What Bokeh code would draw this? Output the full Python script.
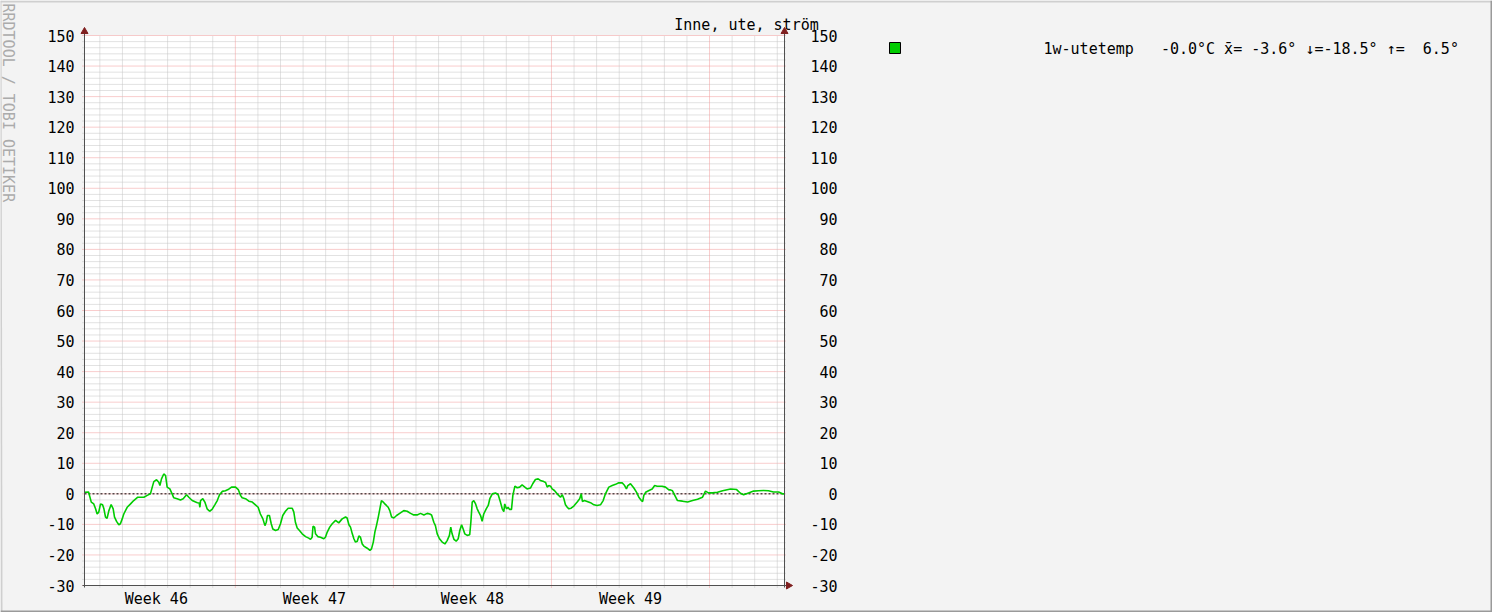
import math
from bokeh.plotting import figure
from bokeh.models import Range1d
from bokeh.core.properties import value
from bokeh.embed import file_html
from bokeh.resources import INLINE

# ---------------- data (time in days from graph start, temperature in °C) ----------------
days = [0.00, 0.18, 0.30, 0.41, 0.49, 0.56, 0.63, 0.71, 0.80, 0.86, 0.93, 1.00, 1.08, 1.18,
        1.27, 1.33, 1.42, 1.52, 1.59, 1.67, 1.74, 1.89, 2.04, 2.18, 2.36, 2.63, 2.78, 2.92,
        3.00, 3.07, 3.19, 3.29, 3.34, 3.41, 3.51, 3.59, 3.66, 3.78, 3.88, 3.95, 4.10, 4.25,
        4.37, 4.52, 4.62, 4.77, 4.92, 5.00, 5.08, 5.11, 5.14, 5.24, 5.33, 5.43, 5.54, 5.65,
        5.77, 5.88, 5.98, 6.10, 6.24, 6.36, 6.51, 6.69, 6.81, 6.91, 6.98, 7.13, 7.28, 7.43,
        7.57, 7.69, 7.79, 7.90, 7.99, 8.05, 8.10, 8.19, 8.27, 8.34, 8.46, 8.58, 8.68, 8.78,
        8.90, 9.02, 9.20, 9.27, 9.34, 9.42, 9.52, 9.64, 9.79, 9.93, 10.01, 10.08, 10.12,
        10.19, 10.23, 10.33, 10.45, 10.60, 10.67, 10.75, 10.86, 10.97, 11.12, 11.26, 11.41,
        11.56, 11.63, 11.71, 11.78, 11.86, 11.93, 12.00, 12.08, 12.15, 12.22, 12.30, 12.37,
        12.52, 12.64, 12.71, 12.79, 12.86, 12.93, 13.01, 13.08, 13.15, 13.23, 13.30, 13.37,
        13.45, 13.52, 13.60, 13.70, 13.82, 13.96, 14.14, 14.29, 14.44, 14.58, 14.73, 14.88,
        15.03, 15.18, 15.29, 15.37, 15.47, 15.54, 15.62, 15.72, 15.84, 15.96, 16.06, 16.16,
        16.22, 16.28, 16.36, 16.46, 16.55, 16.62, 16.70, 16.77, 16.84, 16.95, 17.06, 17.11,
        17.17, 17.24, 17.32, 17.39, 17.46, 17.54, 17.61, 17.68, 17.79, 17.88, 17.95, 18.06,
        18.20, 18.32, 18.42, 18.50, 18.57, 18.61, 18.69, 18.76, 18.82, 18.91, 18.97, 19.06,
        19.16, 19.27, 19.38, 19.50, 19.60, 19.75, 19.85, 19.97, 20.09, 20.19, 20.34, 20.42,
        20.49, 20.56, 20.64, 20.71, 20.81, 20.93, 21.00, 21.08, 21.16, 21.23, 21.30, 21.38,
        21.45, 21.55, 21.67, 21.82, 21.93, 22.00, 22.05, 22.14, 22.26, 22.41, 22.56, 22.70,
        22.85, 22.97, 23.07, 23.22, 23.37, 23.52, 23.66, 23.81, 23.92, 24.00, 24.06, 24.18,
        24.33, 24.45, 24.55, 24.66, 24.72, 24.77, 24.85, 25.00, 25.14, 25.25, 25.36, 25.58,
        25.73, 25.88, 25.95, 26.04, 26.26, 26.48, 26.71, 26.93, 27.15, 27.37, 27.50, 27.63,
        27.81, 28.03, 28.26, 28.61, 28.88, 29.05, 29.19, 29.41, 29.63, 29.85, 30.07, 30.29,
        30.51, 30.74, 30.91, 31.00]
temps = [0.5, 0.6, -2.7, -3.3, -4.9, -6.6, -6.0, -3.3, -3.6, -4.9, -7.6, -8.0, -5.5, -3.5,
         -4.9, -7.6, -9.0, -10.1, -9.8, -8.2, -6.6, -4.4, -3.3, -2.2, -1.1, -1.1, -0.5, 0.0,
         2.2, 4.0, 4.6, 3.8, 2.7, 4.9, 6.5, 6.0, 2.2, 1.6, 0.0, -1.3, -1.6, -2.0,
         -1.6, -0.3, -1.1, -2.2, -2.7, -2.9, -3.0, -4.4, -2.2, -1.6, -2.7, -4.9, -5.7, -5.1,
         -3.6, -2.2, -0.3, 0.8, 1.0, 1.4, 2.2, 2.2, 1.4, -0.5, -1.3, -1.6, -2.4, -2.7,
         -3.6, -4.4, -6.6, -8.2, -10.4, -9.3, -7.1, -7.1, -9.8, -11.5, -12.0, -11.7, -9.8, -7.1,
         -5.7, -4.7, -4.7, -6.0, -9.3, -11.2, -12.0, -13.1, -14.0, -14.5, -14.9, -14.2, -10.6,
         -10.9, -13.1, -14.0, -14.2, -14.7, -14.2, -12.5, -10.9, -9.8, -8.7, -9.5, -8.2,
         -7.6, -7.9, -10.1, -10.9, -13.1, -14.7, -15.8, -15.5, -13.8, -14.2, -16.4, -17.1,
         -17.8, -18.5, -18.0, -15.8, -12.5, -10.4, -7.6, -4.9, -2.2, -2.7, -3.3, -3.8,
         -4.4, -5.5, -7.6, -7.9, -7.1, -6.4, -5.5, -5.7, -6.4, -6.9, -6.9, -6.4,
         -6.9, -6.4, -6.6, -6.9, -9.3, -10.4, -13.1, -14.7, -15.8, -16.4, -15.3, -13.6,
         -10.9, -13.1, -14.9, -15.5, -14.7, -12.0, -10.1, -11.5, -13.1, -13.6, -13.4, -9.3,
         -2.7, -2.2, -3.3, -4.9, -6.0, -7.1, -9.0, -6.6, -4.9, -3.8, -1.6, 0.0,
         0.3, -0.3, -2.7, -4.9, -5.8, -3.3, -4.9, -4.4, -5.1, -5.1, -0.5, 2.5,
         2.0, 2.2, 2.9, 2.2, 1.6, 1.9, 3.3, 4.7, 4.9, 4.4, 4.0, 3.7,
         2.2, 2.7, 2.5, 1.6, 1.1, 0.0, -0.5, -1.1, -0.3, -1.6, -3.6, -4.4,
         -4.9, -4.7, -4.0, -2.7, -1.6, 0.0, -2.5, -2.2, -2.5, -2.9, -3.6, -3.8,
         -3.6, -2.2, 0.0, 2.2, 2.7, 3.1, 3.6, 3.6, 2.7, 1.6, 2.7, 3.3,
         1.9, 0.5, -1.1, -2.2, -2.5, -0.5, 0.5, 1.1, 1.6, 2.7, 2.5, 2.5,
         2.2, 1.3, 1.3, 1.0, -2.2, -2.4, -2.7, -2.2, -1.8, -1.1, 0.9, 0.3,
         0.3, 0.5, 1.0, 1.6, 1.4, 0.2, -0.3, 0.3, 0.9, 1.0, 1.1, 1.0,
         0.6, 0.6, 0.0, -0.0]

day_lines = [0.68 + k for k in range(31)]          # local midnights
week_start_idx = [6, 13, 20, 27]                     # Mondays
week_labels = ["Week 46", "Week 47", "Week 48", "Week 49"]
y_major = list(range(-30, 151, 10))
y_minor = [v for v in range(-30, 151, 2) if v % 10 != 0]
title_text = "Inne, ute, ström"
series_name = "1w-utetemp"
stat_current = "-0.0°C"
stat_mean = "-3.6°"
stat_min = "-18.5°"
stat_max = "6.5°"

# ---------------- geometry (page pixels) ----------------
W, H = 1492, 612
X0, X1, Y_TOP, Y_BOT = 84, 784, 35, 585
XMIN, XMAX, YMIN, YMAX = 0, 31, -30, 150
PPD = (X1 - X0) / (XMAX - XMIN)
PPU = (Y_BOT - Y_TOP) / (YMAX - YMIN)


def dx(px):
    return XMIN + (px - X0) / PPD


def dy(py):
    return YMAX - (py - Y_TOP) / PPU


FONT = value("DejaVu Sans Mono")
FS = value("15px")
AXIS_COLOR = "#505050"
ARROW_COLOR = "#7F1F1F"
MINOR_COLOR = "#C4C4C4"
MAJOR_COLOR = "#F29A9A"

p = figure(width=W, height=H, x_range=Range1d(dx(0), dx(W)), y_range=Range1d(dy(H), dy(0)),
           output_backend="svg", toolbar_location=None,
           x_axis_location=None, y_axis_location=None, min_border=0,
           background_fill_color="#F3F3F3", border_fill_color="#F3F3F3",
           outline_line_color=None)
p.grid.visible = False

# outer 3D frame
p.segment(x0=[dx(0), dx(0)], y0=[dy(1), dy(0)], x1=[dx(W), dx(1)], y1=[dy(1), dy(H)],
          line_color="#CFCFCF", line_width=2)
p.segment(x0=[dx(W - 1), dx(0)], y0=[dy(0), dy(H - 1)], x1=[dx(W - 1), dx(W)], y1=[dy(H), dy(H - 1)],
          line_color="#9A9A9A", line_width=2)

# plot area
p.quad(left=[XMIN], right=[XMAX], bottom=[YMIN], top=[YMAX], fill_color="white", line_color=None)

ext_x = 2 / PPD
ext_y = 2 / PPU
week_starts = [day_lines[i] for i in week_start_idx]
minor_days = [d for i, d in enumerate(day_lines) if i not in week_start_idx]

# horizontal grid
p.segment(x0=[XMIN - ext_x] * len(y_minor), x1=[XMAX + ext_x] * len(y_minor), y0=y_minor, y1=y_minor,
          line_color=MINOR_COLOR, line_dash="1 1", line_width=1)
p.segment(x0=[XMIN - ext_x] * len(y_major), x1=[XMAX + ext_x] * len(y_major), y0=y_major, y1=y_major,
          line_color=MAJOR_COLOR, line_dash="1 1", line_width=1)
# vertical grid
p.segment(x0=minor_days, x1=minor_days, y0=[YMIN - ext_y] * len(minor_days), y1=[YMAX] * len(minor_days),
          line_color=MINOR_COLOR, line_dash="1 1", line_width=1)
p.segment(x0=week_starts, x1=week_starts, y0=[YMIN - ext_y] * len(week_starts), y1=[YMAX] * len(week_starts),
          line_color=MAJOR_COLOR, line_dash="1 1", line_width=1)

# zero rule
p.segment(x0=[XMIN], x1=[XMAX], y0=[0], y1=[0], line_color="black", line_dash="2 2", line_width=1)

# data line
p.line(days, temps, line_color="#00CC00", line_width=1.6)

# axes
p.segment(x0=[XMIN, XMAX, XMIN - ext_x], y0=[YMIN - ext_y, YMIN - ext_y, YMIN],
          x1=[XMIN, XMAX, dx(788)], y1=[dy(31), dy(31), YMIN],
          line_color=AXIS_COLOR, line_width=1)
p.scatter(x=[XMIN, XMAX], y=[dy(31), dy(31)], marker="triangle", size=7,
          fill_color=ARROW_COLOR, line_color=ARROW_COLOR)
p.scatter(x=[dx(788)], y=[YMIN], marker="triangle", angle=-math.pi / 2, size=7,
          fill_color=ARROW_COLOR, line_color=ARROW_COLOR)

# y tick labels (left, right)
p.text(x=[dx(74)] * len(y_major), y=y_major, text=[str(v) for v in y_major],
       text_font=FONT, text_font_size=FS, text_align="right", text_baseline="middle",
       text_color="black")
p.text(x=[dx(837)] * len(y_major), y=y_major, text=[str(v) for v in y_major],
       text_font=FONT, text_font_size=FS, text_align="right", text_baseline="middle",
       text_color="black")

# x labels (centred on each week)
p.text(x=[ws - 3.5 for ws in week_starts], y=[dy(598)] * len(week_starts), text=week_labels,
       text_font=FONT, text_font_size=FS, text_align="center", text_baseline="middle",
       text_color="black")

# title
p.text(x=[dx(746)], y=[dy(24)], text=[title_text], text_font=FONT, text_font_size=FS,
       text_align="center", text_baseline="middle", text_color="black")

# legend
p.quad(left=[dx(889)], right=[dx(900)], top=[dy(42)], bottom=[dy(53)],
       fill_color="#00CC00", line_color="black", line_width=1)
legend_text = (f"{series_name}   {stat_current} x\u0304= {stat_mean} "
               f"\u2193={stat_min} \u2191=  {stat_max}").replace(" ", "\u00a0")
p.text(x=[dx(1043)], y=[dy(48)], text=[legend_text], text_font=FONT, text_font_size=FS,
       text_align="left", text_baseline="middle", text_color="black")

# watermark
p.text(x=[dx(7.5)], y=[dy(3)], text=["RRDTOOL / TOBI OETIKER"], angle=-math.pi / 2,
       text_font=FONT, text_font_size=FS, text_align="left", text_baseline="middle",
       text_color="#ABABAB")

open("out.html", "w").write(file_html(p, INLINE))
